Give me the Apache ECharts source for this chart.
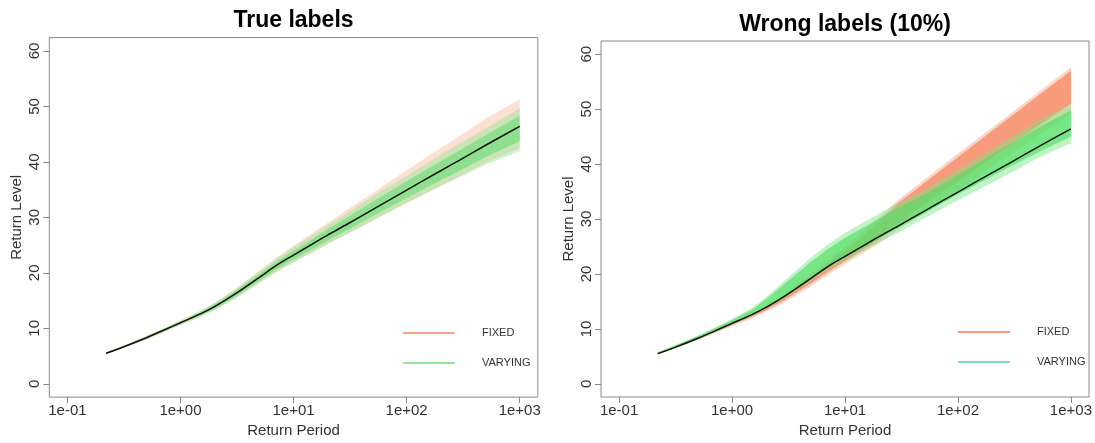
<!DOCTYPE html>
<html>
<head>
<meta charset="utf-8">
<script src="https://cdn.jsdelivr.net/npm/echarts@6/dist/echarts.min.js"></script>
<style>
html,body{margin:0;padding:0;background:#fff;}
#chart{width:1095px;height:443px;}
</style>
</head>
<body>
<div id="chart"></div>
<script>
// ---------------- data ----------------
const periods   = [0.22, 0.3, 0.5, 0.7, 1, 1.5, 2, 3, 5, 7, 10, 15, 20, 30, 50, 100, 200, 300, 500, 1000];
const trueLevel = [5.5, 6.5, 8.3, 9.6, 11.0, 12.6, 13.9, 16.1, 19.2, 21.3, 23.2, 25.3, 26.8, 28.8, 31.4, 34.9, 38.4, 40.4, 43.0, 46.4];

// Panel 1 : True labels
const tFixedOuterLow   = [5.3, 6.3, 8.0, 9.3, 10.6, 12.1, 13.3, 15.3, 18.2, 20.1, 21.9, 23.8, 25.2, 27.0, 29.4, 32.6, 35.7, 37.5, 39.8, 42.5];
const tFixedOuterHigh  = [5.7, 6.7, 8.6, 9.9, 11.4, 13.1, 14.6, 17.0, 20.4, 22.7, 24.9, 27.3, 29.0, 31.4, 34.4, 38.5, 42.5, 44.8, 47.8, 51.3];
const tVaryOuterLow    = [5.3, 6.3, 8.0, 9.3, 10.6, 12.1, 13.3, 15.3, 18.2, 20.1, 21.9, 23.8, 25.2, 27.0, 29.4, 32.6, 35.6, 37.3, 39.5, 41.9];
const tVaryOuterHigh   = [5.7, 6.7, 8.6, 9.9, 11.4, 13.1, 14.5, 16.9, 20.2, 22.5, 24.6, 26.9, 28.6, 30.8, 33.8, 37.5, 41.3, 43.4, 46.0, 49.6];
const tVaryCoreLow     = [5.4, 6.4, 8.1, 9.4, 10.8, 12.3, 13.5, 15.6, 18.6, 20.6, 22.4, 24.4, 25.8, 27.7, 30.2, 33.5, 36.7, 38.5, 40.9, 43.7];
const tVaryCoreHigh    = [5.6, 6.6, 8.5, 9.8, 11.2, 12.9, 14.3, 16.6, 19.8, 22.0, 24.0, 26.2, 27.9, 30.0, 32.8, 36.5, 40.1, 42.2, 44.8, 48.3];

// Panel 2 : Wrong labels (10%)
const wFixedOuterLow   = [5.3, 6.3, 8.0, 9.2, 10.5, 11.9, 13.1, 15.0, 17.8, 19.8, 21.8, 24.0, 25.6, 28.2, 31.2, 35.2, 39.5, 42.0, 45.0, 49.2];
const wFixedOuterHigh  = [5.7, 6.7, 8.5, 9.8, 11.2, 12.8, 14.2, 16.6, 20.1, 22.5, 25.0, 27.9, 30.2, 33.6, 37.1, 41.9, 46.6, 49.4, 52.9, 57.6];
const wFixedCoreLow    = [5.4, 6.4, 8.1, 9.4, 10.7, 12.2, 13.4, 15.4, 18.3, 20.3, 22.3, 24.6, 26.3, 29.3, 32.6, 36.9, 41.2, 43.7, 46.8, 51.0];
const wFixedCoreHigh   = [5.6, 6.6, 8.4, 9.7, 11.1, 12.6, 13.9, 16.2, 19.6, 21.9, 24.3, 27.2, 29.5, 33.0, 36.5, 41.3, 46.0, 48.8, 52.3, 57.0];
const wVaryOuterLow    = [5.3, 6.3, 8.1, 9.4, 10.8, 12.4, 13.7, 15.8, 18.8, 20.7, 22.4, 24.3, 25.7, 27.6, 30.1, 33.4, 36.6, 38.5, 41.0, 43.8];
const wVaryOuterHigh   = [5.8, 6.9, 8.8, 10.2, 11.8, 13.8, 15.8, 19.0, 23.0, 25.3, 27.5, 29.5, 31.0, 33.0, 35.3, 39.0, 42.8, 45.0, 47.8, 51.0];
const wVaryCoreLow     = [5.4, 6.4, 8.2, 9.5, 10.9, 12.5, 13.9, 16.1, 19.2, 21.2, 23.0, 25.0, 26.5, 28.5, 31.0, 34.5, 37.8, 39.7, 42.0, 45.0];
const wVaryCoreHigh    = [5.7, 6.8, 8.7, 10.1, 11.6, 13.5, 15.4, 18.4, 22.2, 24.5, 26.6, 28.6, 30.1, 32.1, 34.4, 38.0, 41.7, 43.8, 46.5, 49.8];

const xTickExponents = [-1, 0, 1, 2, 3];
const yTicks = [0, 10, 20, 30, 40, 50, 60];
const panelTitles = ['True labels', 'Wrong labels (10%)'];
const legendNames = ['FIXED', 'VARYING'];

// ---------------- chart ----------------
const FONT = '"Liberation Sans", Arial, sans-serif';
const lx = periods.map(p => Math.log10(p));

function bandSeries(name, gi, low, high, fill, legendColor, z) {
  return {
    type: 'custom', name: name, xAxisIndex: gi, yAxisIndex: gi, z: z, silent: true,
    itemStyle: { color: legendColor },
    clip: true,
    data: lx.map((x, i) => [x, low[i], high[i]]),
    encode: { x: 0, y: [1, 2] },
    renderItem: function (params, api) {
      if (params.dataIndex !== 0) return null;
      const pts = [];
      for (let i = 0; i < lx.length; i++) pts.push(api.coord([lx[i], high[i]]));
      for (let i = lx.length - 1; i >= 0; i--) pts.push(api.coord([lx[i], low[i]]));
      return { type: 'polygon', shape: { points: pts }, style: { fill: fill, stroke: null } };
    }
  };
}

function trueLine(gi) {
  return {
    type: 'line', name: 'true', xAxisIndex: gi, yAxisIndex: gi, z: 10, silent: true,
    data: lx.map((x, i) => [x, trueLevel[i]]),
    smooth: 0.3, symbol: 'none', showSymbol: false,
    lineStyle: { color: '#111', width: 1.5 }
  };
}

const grids = [
  { left: 49.3, top: 37.6, width: 488.5, height: 362.5 },
  { left: 601, top: 41, width: 488, height: 356 }
];

function xAxisFor(gi) {
  return {
    type: 'value', gridIndex: gi, min: -1.16, max: 3.16,
    name: 'Return Period', nameLocation: 'middle', nameGap: 22,
    nameTextStyle: { fontSize: 15, color: '#333', fontFamily: FONT },
    axisLine: { show: false, onZero: false },
    splitLine: { show: false },
    axisTick: { show: true, length: 6, lineStyle: { color: '#888' }, customValues: xTickExponents },
    axisLabel: {
      customValues: xTickExponents, margin: 6, fontSize: 15, color: '#333', fontFamily: FONT,
      formatter: v => { const e = Math.round(v); return '1e' + (e < 0 ? '-' : '+') + String(Math.abs(e)).padStart(2, '0'); }
    }
  };
}
function yAxisFor(gi) {
  return {
    type: 'value', gridIndex: gi, min: -2.4, max: 62.4,
    name: 'Return Level', nameLocation: 'middle', nameGap: 25, nameRotate: 90,
    nameTextStyle: { fontSize: 15, color: '#333', fontFamily: FONT },
    axisLine: { show: false, onZero: false },
    splitLine: { show: false },
    axisTick: { show: true, length: 6, lineStyle: { color: '#888' }, customValues: yTicks },
    axisLabel: { customValues: yTicks, rotate: 90, margin: 7, fontSize: 15, color: '#333', fontFamily: FONT }
  };
}

function legendFor(left, top, fixedColor, varyColor) {
  return {
    orient: 'vertical', left: left, top: top, padding: 0, itemGap: 16,
    itemWidth: 52, itemHeight: 2, icon: 'rect', selectedMode: false,
    textStyle: { fontSize: 11, color: '#333', fontFamily: FONT, lineHeight: 14, padding: [0, 0, 0, 22] },
    data: [
      { name: legendNames[0], itemStyle: { color: fixedColor, borderWidth: 0 } },
      { name: legendNames[1], itemStyle: { color: varyColor, borderWidth: 0 } }
    ]
  };
}

const option = {
  animation: false,
  backgroundColor: '#fff',
  title: [
    { text: panelTitles[0], left: 293.5, top: 9, textAlign: 'center', padding: 0,
      textStyle: { fontSize: 23, fontWeight: 'bold', color: '#000', fontFamily: FONT } },
    { text: panelTitles[1], left: 845, top: 13, textAlign: 'center', padding: 0,
      textStyle: { fontSize: 23, fontWeight: 'bold', color: '#000', fontFamily: FONT } }
  ],
  grid: grids.map(g => Object.assign({ show: true, borderColor: '#8a8a8a', borderWidth: 1, backgroundColor: 'transparent', containLabel: false }, g)),
  xAxis: [xAxisFor(0), xAxisFor(1)],
  yAxis: [yAxisFor(0), yAxisFor(1)],
  legend: [
    legendFor(403, 326, '#f6a488', '#8fe89a'),
    legendFor(958, 325, '#f79a7c', '#7fdcb0')
  ],
  series: [
    // panel 1
    bandSeries(legendNames[0], 0, tFixedOuterLow, tFixedOuterHigh, 'rgba(246,165,125,0.35)', '#f6a488', 2),
    bandSeries(legendNames[1], 0, tVaryOuterLow, tVaryOuterHigh, 'rgba(130,232,140,0.40)', '#8fe89a', 3),
    bandSeries(legendNames[1], 0, tVaryCoreLow, tVaryCoreHigh, 'rgba(95,222,110,0.55)', '#8fe89a', 4),
    trueLine(0),
    // panel 2
    bandSeries(legendNames[0], 1, wFixedOuterLow, wFixedOuterHigh, 'rgba(250,150,110,0.40)', '#f79a7c', 2),
    bandSeries(legendNames[0], 1, wFixedCoreLow, wFixedCoreHigh, 'rgba(246,125,85,0.65)', '#f79a7c', 3),
    bandSeries(legendNames[1], 1, wVaryOuterLow, wVaryOuterHigh, 'rgba(115,230,130,0.45)', '#7fdcb0', 4),
    bandSeries(legendNames[1], 1, wVaryCoreLow, wVaryCoreHigh, 'rgba(80,222,100,0.65)', '#7fdcb0', 5),
    trueLine(1)
  ]
};

const chart = echarts.init(document.getElementById('chart'), null, { renderer: 'canvas' });
chart.setOption(option);
</script>
</body>
</html>
